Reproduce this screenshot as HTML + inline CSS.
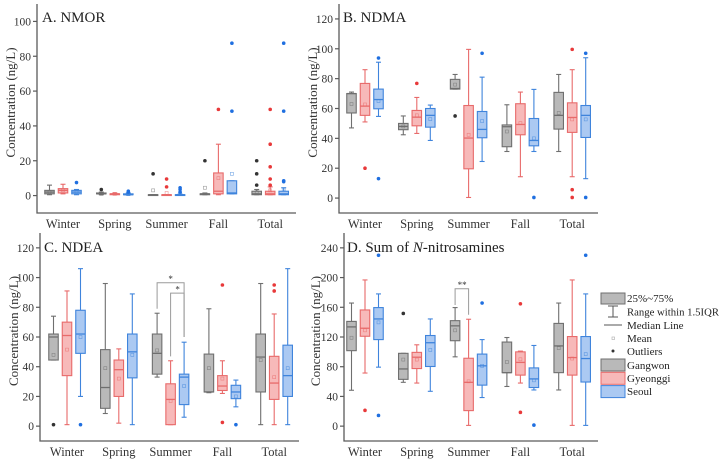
<!DOCTYPE html>
<html><head><meta charset="utf-8">
<style>
html,body{margin:0;padding:0;background:#fff;}
svg{display:block;}
svg text{font-family:"Liberation Serif","DejaVu Serif",serif;}
</style></head>
<body>
<svg id="chart" width="720" height="459" viewBox="0 0 720 459" xmlns="http://www.w3.org/2000/svg" font-family="Liberation Serif, serif"></svg>
<script>
// categories and regions
const categories = ["Winter","Spring","Summer","Fall","Total"];
const regions = ["Gangwon","Gyeonggi","Seoul"];
// each box: [whiskerLow, q1, median, q3, whiskerHigh, mean, outliers]
const nmorData = [
 [[0.5,1,2,3,6,2,[]],[1,1.5,3,4,6.5,3,[]],[0.5,1,2,3,3.5,2,[7.5]]],
 [[0.5,1,1,1.5,2,1,[3.5]],[0.5,0.5,1,1,1.5,1,[]],[0.3,0.5,0.5,1,1.5,0.8,[2,2.5]]],
 [[0.5,0.5,0.5,0.5,0.5,3,[12.5]],[0.5,0.5,0.5,0.5,0.5,1.5,[5,9.5]],[0.5,0.5,0.5,0.5,0.8,1,[2,3.5,4.5]]],
 [[0.5,0.5,1,1,1.5,4.5,[20]],[0.5,1,2.5,13,29.5,10,[49.5]],[1,1,1.5,8.5,8.5,12.5,[48.5,87.5]]],
 [[0.5,0.5,1,2.5,3.5,2,[6,12.5,20]],[0.5,0.5,1,2.5,5,3,[6,9.5,16.5,29.5,49.5]],[0.5,0.5,1,2.5,4.5,3.5,[8,8.5,48.5,87.5]]]
];
const ndmaData = [
 [[47,57,70,70,71,63,[]],[51,55.4,61.6,76.8,86,62.7,[20]],[54.7,59.8,66,73,91,65,[93.8,13]]],
 [[42.4,45.8,48,50,55,48,[]],[43.3,48.4,54.2,58.7,67.4,55.4,[76.8]],[38.6,47.5,55.4,60,62.3,52.9,[]]],
 [[73,73,73.4,79.5,82.8,76,[55]],[0.4,19.6,40.2,62,99.6,42.4,[]],[24.5,40.4,46,58,81,51.6,[97]]],
 [[31.2,34.4,47.8,49,62.5,44.6,[]],[14.3,42.4,49.3,63.2,71,50.2,[]],[31.2,35,38.6,53.3,72.8,40,[0.4]]],
 [[31.2,46.2,55.4,70.8,82.8,57,[]],[14.3,44,54,63.8,86,52.7,[99.6,5.6,0.4]],[13,40.6,55.4,62,94,52.7,[97,0.4]]]
];
const ndeaData = [
 [[44.5,44.5,60,62,74,48,[1]],[1,34,61,70,91,51.5,[]],[20,49,62,78,106,60,[1]]],
 [[8.5,12,26,51.5,96,39,[]],[2,20,38,44.5,52,32,[]],[1,32.5,50,62,89,48,[]]],
 [[33,35,49,62,76,51,[]],[1,1,18,28.5,44,17,[]],[6,14.5,33,35,56.5,27,[]]],
 [[22.5,23,23,48.5,79,39,[]],[22,24,27,34,44,32,[95,2.5]],[13,18.5,23,27.5,31,20,[1]]],
 [[1,23,46.5,62,96,44.5,[]],[1,18,29,47,75.5,33,[91,95]],[1,20,34,54.5,106,39,[]]]
];
const sumData = [
 [[48.3,101.6,133.6,141,165.7,119,[]],[71.5,121,131.8,156.4,196.8,129,[21.3]],[79.4,116.5,144.3,159.6,178,139.7,[230,14.4]]],
 [[59,63,77,98,98,89.6,[151.7]],[58,77.5,92.8,99.3,109.5,89.6,[]],[46.9,80.3,112.3,122,144.3,102.6,[]]],
 [[93.3,115,135,142,159.6,129,[]],[1,20.9,59,91.4,143.9,60.3,[]],[38.5,55.2,81.2,97,116.5,81.2,[165.7]]],
 [[53.4,72,72,113.2,119.3,86.3,[]],[58,68.7,85.8,100,101,90,[164.7,18.6]],[48.7,52,63.6,78.4,108.6,61.7,[1.4]]],
 [[48.7,72,108,138.3,165.7,105,[]],[1,68.7,92.3,120.6,196.8,91,[]],[1,59.4,91,120.6,178,97,[230]]]
];
const ticksA = [0,20,40,60,80,100];
const ticksB = [0,20,40,60,80,100,120];
const ticksC = [0,20,40,60,80,100,120];
const ticksD = [0,40,80,120,160,200,240];

const fills = ["#b9b9b9","#f7b9b9","#abc9f2"];
const strokes = ["#6f6f6f","#e86a6a","#3f84dc"];
const dots = ["#333333","#e8393a","#1f6fe0"];
const FONT = "Liberation Serif, serif";
const NS="http://www.w3.org/2000/svg";
const svg=document.getElementById('chart');
function mk(tag,attrs,parent){const e=document.createElementNS(NS,tag);for(const k in attrs)e.setAttribute(k,attrs[k]);if(tag==='text')e.setAttribute('font-family',FONT);(parent||svg).appendChild(e);return e;}

const panels=[
 {id:'nmor',title:'A. NMOR',data:nmorData,ticks:ticksA,left:37,right:296,top:4,bottom:213,ymin:-10,ymax:110,cx0:63,tx:42,ty:22,atx:15},
 {id:'ndma',title:'B. NDMA',data:ndmaData,ticks:ticksB,left:339,right:598,top:4,bottom:213,ymin:-10,ymax:130,cx0:365,tx:343,ty:22,atx:317},
 {id:'ndea',title:'C. NDEA',data:ndeaData,ticks:ticksC,left:40,right:299,top:233,bottom:441,ymin:-10,ymax:130,cx0:67,tx:44,ty:252,atx:18},
 {id:'sum',title:'D. Sum of ',data:sumData,ticks:ticksD,left:344,right:598,top:233,bottom:441,ymin:-20,ymax:260,cx0:365,tx:347,ty:252,atx:320}
];
const step=51.8, offs=[-13.5,0,13.5], bw=9.5;

panels.forEach(p=>{
 const g=mk('g',{});
 
 
 const y=v=>p.bottom-(v-p.ymin)/(p.ymax-p.ymin)*(p.bottom-p.top);
 const ax=mk('path',{d:`M${p.left},${p.top}V${p.bottom}H${p.right}`,fill:'none',stroke:'#5a5a5a','stroke-width':1.3},g);
 
 
 p.ticks.forEach(t=>{
  mk('line',{x1:p.left-4,x2:p.left,y1:y(t),y2:y(t),stroke:'#5a5a5a','stroke-width':1.2},g);
  const tl=mk('text',{x:p.left-6,y:y(t)+4,'text-anchor':'end','font-size':11.5,fill:'#333'},g);
  tl.textContent=t;
  
  
 });
 const at=mk('text',{x:p.atx,y:(p.top+p.bottom)/2-6,'text-anchor':'middle','font-size':13,fill:'#333',transform:`rotate(-90 ${p.atx} ${(p.top+p.bottom)/2-6})`},g);
 at.textContent='Concentration (ng/L)';
 
 
 const tt=mk('text',{x:p.tx,y:p.ty,'font-size':15,fill:'#222'},g);
 tt.textContent=p.title;
 
 
 if(p.id==='sum'){const i=mk('tspan',{'font-style':'italic'},tt);i.textContent='N';const r=mk('tspan',{},tt);r.textContent='-nitrosamines';}
 categories.forEach((c,ci)=>{
  const cx=p.cx0+ci*step;
  const xl=mk('text',{x:cx,y:p.bottom+15,'text-anchor':'middle','font-size':12.5,fill:'#333'},g);
  xl.textContent=c;
  
  
  p.data[ci].forEach((b,ri)=>{
   const x=cx+offs[ri];
   const [wl,q1,md,q3,wh,mn,out]=b;
   const bg=mk('g',{},g);
   
   
   const s=strokes[ri];
   mk('line',{x1:x,x2:x,y1:y(wh),y2:y(q3),stroke:s,'stroke-width':1.1},bg);
   mk('line',{x1:x,x2:x,y1:y(q1),y2:y(wl),stroke:s,'stroke-width':1.1},bg);
   mk('line',{x1:x-2.5,x2:x+2.5,y1:y(wh),y2:y(wh),stroke:s,'stroke-width':1.1},bg);
   mk('line',{x1:x-2.5,x2:x+2.5,y1:y(wl),y2:y(wl),stroke:s,'stroke-width':1.1},bg);
   mk('rect',{x:x-bw/2,y:y(q3),width:bw,height:Math.max(y(q1)-y(q3),0.8),fill:fills[ri],stroke:s,'stroke-width':1.1},bg);
   mk('line',{x1:x-bw/2,x2:x+bw/2,y1:y(md),y2:y(md),stroke:s,'stroke-width':1.3},bg);
   mk('rect',{x:x-1.5,y:y(mn)-1.5,width:3,height:3,fill:'none',stroke:s,'stroke-width':0.6,opacity:0.7},bg);
   out.forEach(o=>mk('circle',{cx:x,cy:y(o),r:1.8,fill:dots[ri]},bg));
  });
 });
 p.y=y;
});

// significance brackets
const pc=panels[2], yC=pc.y, sx=pc.cx0+2*step;
const br=mk('g',{fill:'none',stroke:'#9a9a9a','stroke-width':1});


mk('path',{d:`M${sx+offs[0]},${yC(79)}V${yC(96.5)}H${sx+offs[2]}V${yC(60)}`},br);
mk('path',{d:`M${sx+offs[1]},${yC(47)}V${yC(89.5)}H${sx+offs[2]}V${yC(60)}`},br);
let st=mk('text',{x:sx,y:yC(99)+3,'text-anchor':'middle','font-size':9,fill:'#333'});st.textContent='*';


st=mk('text',{x:sx+7,y:yC(92)+3,'text-anchor':'middle','font-size':9,fill:'#333'});st.textContent='*';


const pd=panels[3], yD=pd.y, dx=pd.cx0+2*step;
const br2=mk('g',{fill:'none',stroke:'#9a9a9a','stroke-width':1});


mk('path',{d:`M${dx+offs[0]},${yD(163)}V${yD(185)}H${dx+offs[1]}V${yD(150)}`},br2);
st=mk('text',{x:dx-6.5,y:yD(190)+3,'text-anchor':'middle','font-size':9,fill:'#333'});st.textContent='**';



// legend
const lg=mk('g',{});


const lx=601, lw=24;
const rows=[['25%~75%',298],['Range within 1.5IQR',311.5],['Median Line',325],['Mean',338],['Outliers',351],['Gangwon',365],['Gyeonggi',378],['Seoul',391]];
mk('rect',{x:lx,y:293,width:lw,height:11,fill:'#b9b9b9',stroke:'#6f6f6f'},lg);
mk('path',{d:`M${lx+7},306H${lx+17}M${lx+12},306V317M${lx+7},317H${lx+17}`,stroke:'#555',fill:'none'},lg);
mk('line',{x1:lx+3,x2:lx+21,y1:325,y2:325,stroke:'#555'},lg);
mk('rect',{x:lx+11,y:337,width:2.5,height:2.5,fill:'none',stroke:'#aaa','stroke-width':0.6},lg);
mk('circle',{cx:lx+12,cy:351,r:1.5,fill:'#333'},lg);
[0,1,2].forEach(i=>mk('rect',{x:lx,y:359+i*13.3,width:lw,height:12,fill:fills[i],stroke:strokes[i]},lg));
rows.forEach(r=>{
 const t=mk('text',{x:lx+26,y:r[1]+4,'font-size':11,fill:'#222'},lg);
 if(r[0].length>15){t.setAttribute('textLength',92);t.setAttribute('lengthAdjust','spacingAndGlyphs');}
 t.textContent=r[0];
 
 
});
</script>
</body></html>
